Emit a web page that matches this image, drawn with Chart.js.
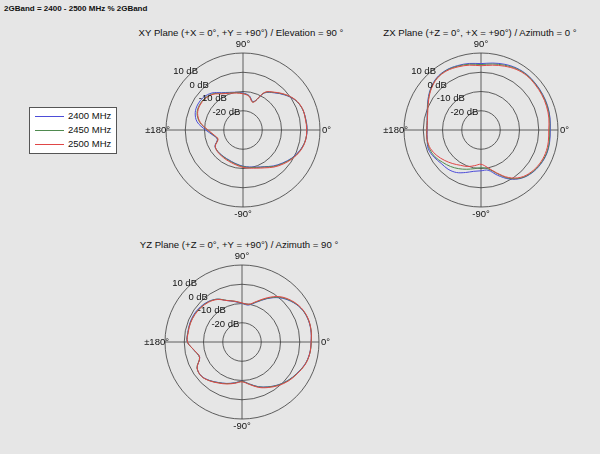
<!DOCTYPE html>
<html>
<head>
<meta charset="utf-8">
<script src="https://cdn.jsdelivr.net/npm/chart.js@4.4.1/dist/chart.umd.min.js"></script>
<style>
  body { margin: 0; background: #e6e6e6; font-family: "Liberation Sans", Arial, Helvetica, sans-serif; color: #111; }
  #page { position: relative; width: 600px; height: 454px; overflow: hidden; background: #e6e6e6; }
  .band { position: absolute; left: 4px; top: 3px; font-size: 8px; font-weight: bold; line-height: 12px; }
  .ttl { position: absolute; width: 300px; text-align: center; font-size: 9.6px; line-height: 12px; white-space: nowrap; }
  canvas { position: absolute; }
  #legend { position: absolute; left: 29px; top: 107px; width: 86px; height: 45px; background: #fff; border: 1px solid #555; }
  .row { position: absolute; left: 5px; height: 12px; font-size: 9.5px; line-height: 12px; }
  .row span { display: inline-block; width: 29px; height: 0; border-top: 1px solid; vertical-align: middle; margin-right: 4px; }
</style>
</head>
<body>
<div id="page">
  <div class="band">2GBand = 2400 - 2500 MHz % 2GBand</div>
  <div class="ttl" style="left:91px;top:27px">XY Plane (+X = 0°, +Y = +90°) / Elevation = 90 °</div>
  <div class="ttl" style="left:330px;top:27px">ZX Plane (+Z = 0°, +X = +90°) / Azimuth = 0 °</div>
  <div class="ttl" style="left:89px;top:239px">YZ Plane (+Z = 0°, +Y = +90°) / Azimuth = 90 °</div>
  <div id="legend"></div>
  <canvas id="xy" width="234" height="190" style="left:126px;top:35px"></canvas>
  <canvas id="zx" width="234" height="190" style="left:364px;top:35px"></canvas>
  <canvas id="yz" width="234" height="190" style="left:125px;top:247px"></canvas>
</div>
<script>
// angles in degrees, counter-clockwise from +X (0°)
const angles = [0, 10, 20, 30, 40, 50, 60, 70, 80, 90, 100, 110, 120, 130, 140, 150, 160, 170,
                180, 190, 200, 210, 220, 230, 240, 250, 260, 270, 280, 290, 300, 310, 320, 330, 340, 350];
const ringTicks = [10, 0, -10, -20];
const freqs = ['2400 MHz', '2450 MHz', '2500 MHz'];
const colors = ['#4d4dd8', '#4f8a4f', '#e04646'];

// gain in dB, XY plane
const xy2400 = [3.3, 3.1, 2.7, 1.2, -1.7, -4.8, -7.8, -14.3, -11.8, -10.8, -10.1, -9.2, -7.6, -4.9, -3.4, -3.0, -3.6, -5.8,
                -10.6, -14.2, -15.8, -13.2, -12.8, -12.9, -12.9, -12.6, -12.0, -11.2, -10.5, -9.5, -8.0, -5.6, -3.3, -0.8, 1.3, 2.8];
const xy2450 = [3.2, 3.0, 2.7, 1.3, -1.5, -4.6, -7.6, -14.5, -12.0, -11.0, -10.3, -9.5, -8.0, -5.5, -4.2, -3.9, -4.6, -7.2,
                -11.5, -14.5, -16.0, -13.3, -12.8, -12.8, -12.7, -12.4, -11.8, -11.0, -10.3, -9.3, -7.8, -5.3, -3.0, -0.6, 1.5, 2.8];
const xy2500 = [3.1, 2.9, 2.8, 1.4, -1.3, -4.4, -7.4, -14.7, -12.2, -11.2, -10.5, -9.7, -8.3, -5.8, -4.5, -4.2, -4.9, -7.5,
                -11.8, -14.8, -16.2, -13.4, -12.6, -12.5, -12.3, -12.0, -11.4, -10.6, -9.9, -8.9, -7.3, -4.9, -2.6, -0.3, 1.7, 2.9];

// gain in dB, ZX plane
const zx2400 = [6.0, 6.4, 6.8, 7.0, 7.2, 7.4, 7.1, 6.3, 5.3, 4.5, 5.1, 5.6, 6.0, 5.6, 4.0, 1.8, -0.3, -1.6,
                -2.0, -1.6, -0.9, -1.8, -3.0, -3.4, -4.5, -6.5, -8.2, -8.8, -8.8, -5.0, -0.6, 2.7, 4.6, 5.7, 6.3, 6.2];
const zx2450 = [5.7, 6.2, 6.6, 6.8, 7.0, 7.2, 6.8, 5.8, 4.8, 4.0, 4.7, 5.3, 5.8, 5.4, 3.8, 1.6, -0.4, -1.6,
                -1.8, -1.5, -1.5, -2.3, -3.9, -5.3, -6.8, -8.3, -9.6, -10.4, -9.6, -6.0, -1.0, 2.5, 4.4, 5.5, 6.1, 6.0];
const zx2500 = [5.2, 5.8, 6.2, 6.5, 6.7, 6.9, 6.4, 5.3, 4.2, 3.4, 4.2, 4.9, 5.5, 5.2, 3.6, 1.4, -0.6, -1.7,
                -1.9, -1.6, -2.0, -3.5, -5.4, -7.2, -8.8, -9.8, -11.2, -12.2, -10.2, -6.3, -1.5, 2.1, 4.0, 5.1, 5.6, 5.5];

// gain in dB, YZ plane
const yz2400 = [5.9, 6.3, 6.2, 5.2, 3.0, 0.0, -4.0, -8.0, -10.5, -10.0, -8.7, -7.1, -4.3, -2.6, -1.7, -1.2, -1.2, -1.4,
                -1.6, -4.8, -6.6, -3.1, -2.5, -3.9, -5.7, -7.1, -8.5, -9.6, -7.9, -5.3, -3.1, -0.9, 1.1, 2.8, 4.6, 5.6];
const yz2450 = [6.0, 6.4, 6.3, 5.3, 3.2, 0.3, -3.8, -7.8, -10.3, -9.8, -8.5, -7.0, -4.3, -2.8, -2.0, -1.5, -1.4, -1.5,
                -1.6, -4.8, -6.5, -3.0, -2.4, -3.8, -5.6, -7.0, -8.4, -9.5, -7.8, -5.2, -3.0, -0.8, 1.2, 2.9, 4.7, 5.7];
const yz2500 = [5.9, 6.4, 6.4, 5.5, 3.5, 0.7, -3.4, -7.5, -10.1, -9.7, -8.5, -7.1, -4.5, -3.0, -2.2, -1.7, -1.5, -1.6,
                -1.7, -4.9, -6.6, -3.1, -2.4, -3.7, -5.4, -6.8, -8.2, -9.3, -7.6, -4.9, -2.7, -0.5, 1.5, 3.1, 4.8, 5.7];

// legend box
const legendBox = document.getElementById('legend');
freqs.forEach((f, i) => {
    const row = document.createElement('div');
    row.className = 'row';
    row.style.top = (2 + i * 14) + 'px';
    row.innerHTML = `<span style="border-color:${colors[i]}"></span>${f}`;
    legendBox.appendChild(row);
});

// radar runs clockwise from startAngle, the plots run counter-clockwise
const ccw = arr => arr.map((_, i) => arr[(arr.length - i) % arr.length]);

const polarLabels = {
    id: 'polarLabels',
    afterDraw(chart) {
        const s = chart.scales.r;
        const ctx = chart.ctx;
        const R = s.drawingArea;
        ctx.save();
        ctx.fillStyle = '#111';
        ctx.font = '9.5px "Liberation Sans", Arial, sans-serif';
        ctx.textBaseline = 'middle';
        ctx.textAlign = 'center';
        ctx.fillText('90°', s.xCenter, s.yCenter - R - 9);
        ctx.fillText('-90°', s.xCenter, s.yCenter + R + 7);
        ctx.textAlign = 'left';
        ctx.fillText('0°', s.xCenter + R + 2, s.yCenter);
        ctx.textAlign = 'right';
        ctx.fillText('±180°', s.xCenter - R + 4, s.yCenter);
        ctx.textAlign = 'center';
        ringTicks.forEach(v => {
            const d = s.getDistanceFromCenterForValue(v);
            const x = s.xCenter - d * Math.SQRT1_2;
            const y = s.yCenter - d * Math.SQRT1_2;
            ctx.fillText(v + ' dB', x - 3, y - 4);
        });
        ctx.restore();
    }
};

function polarChart(id, series) {
    const datasets = series.map((vals, i) => ({
        label: freqs[i],
        data: ccw(vals),
        borderColor: colors[i],
        borderWidth: 1,
        pointRadius: 0,
        fill: false,
        tension: 0.35,
        order: 2 - i
    }));
    return new Chart(document.getElementById(id), {
        type: 'radar',
        data: { labels: ccw(angles), datasets: datasets },
        options: {
            responsive: false,
            animation: false,
            events: [],
            layout: { padding: { left: 40, right: 40, top: 18, bottom: 18 } },
            plugins: { legend: { display: false }, tooltip: { enabled: false } },
            scales: {
                r: {
                    min: -30,
                    max: 10,
                    startAngle: 90,
                    ticks: { display: false, stepSize: 10 },
                    pointLabels: { display: false },
                    grid: { circular: true, color: '#3a3a3a', lineWidth: 0.8 },
                    angleLines: {
                        color: '#3a3a3a',
                        lineWidth: ctx => ctx.index % 9 === 0 ? 0.8 : 0
                    }
                }
            }
        },
        plugins: [polarLabels]
    });
}

polarChart('xy', [xy2400, xy2450, xy2500]);
polarChart('zx', [zx2400, zx2450, zx2500]);
polarChart('yz', [yz2400, yz2450, yz2500]);
</script>
</body>
</html>
